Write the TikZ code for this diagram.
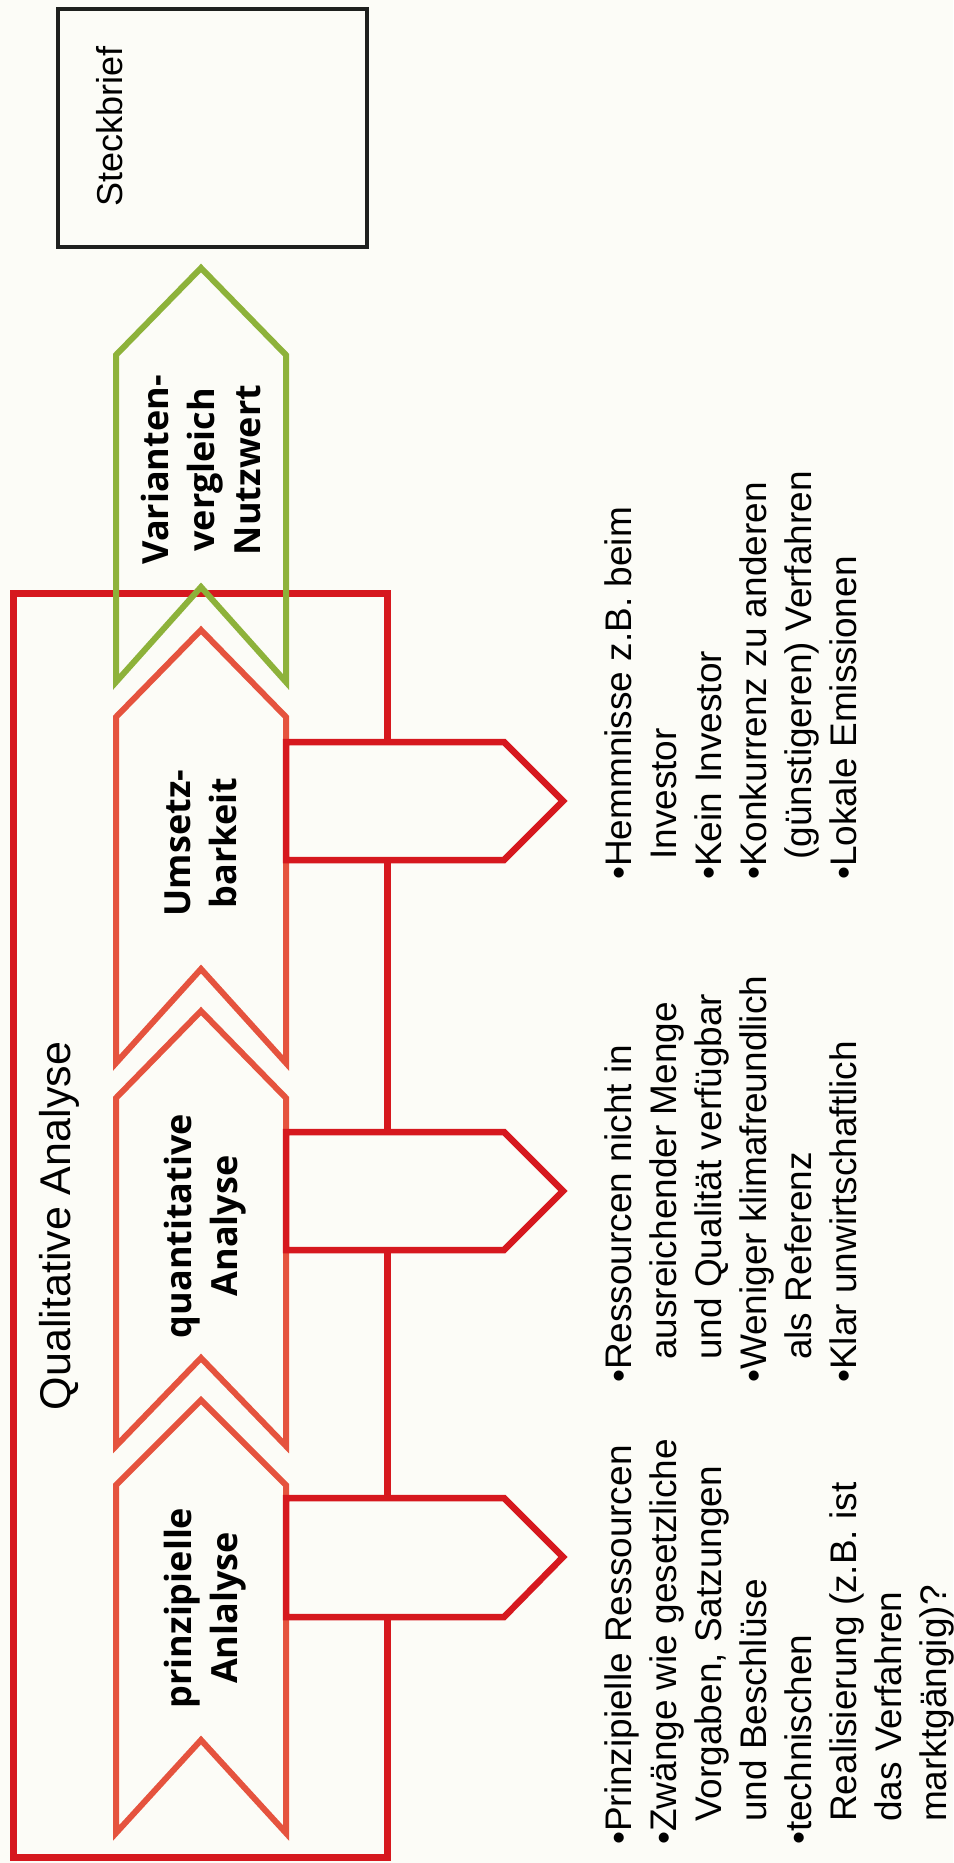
\documentclass[tikz,border=0pt]{standalone}
\usepackage{fontspec}
\setmainfont{Liberation Sans}
\newfontfamily\labfont{Open Sans}
\definecolor{paper}{RGB}{252,252,247}
\definecolor{frred}{RGB}{214,24,30}
\definecolor{arred}{RGB}{229,83,62}
\definecolor{vgreen}{RGB}{141,178,58}
\definecolor{boxblack}{RGB}{30,32,30}
\begin{document}
\begin{tikzpicture}[x=1pt,y=-1pt,
  bigarrow/.style={line width=6pt, line join=miter},
  tabarrow/.style={draw=frred, fill=paper, line width=6.5pt, line join=miter},
  bul/.style={rotate=90, anchor=base west, inner sep=0pt, font=\fontsize{37}{45}\selectfont},
  lbl/.style={rotate=90, align=center, inner sep=0pt, font=\labfont\bfseries\fontsize{36}{46}\selectfont},
]
\path[use as bounding box, fill=paper] (0,0) rectangle (953,1863);

% Steckbrief box
\draw[boxblack, line width=4pt] (58,9) rectangle (367,247);
\node[rotate=90, anchor=base west, inner sep=0pt, font=\fontsize{36}{40}\selectfont] (steck) at (122,207) {Steckbrief};

% outer frame
\draw[frred, line width=7pt] (13,593) rectangle (387,1857);

% big arrows: tip T, shoulder S, bottom B, notch N
\draw[vgreen, bigarrow] (116,355) -- (201,268) -- (286,355) -- (286,682) -- (201,587) -- (116,682) -- cycle;
\draw[arred, bigarrow] (116,717) -- (201,630) -- (286,717) -- (286,1063) -- (201,969) -- (116,1063) -- cycle;
\draw[arred, bigarrow] (116,1098) -- (201,1011) -- (286,1098) -- (286,1446) -- (201,1358) -- (116,1446) -- cycle;
\draw[arred, bigarrow] (116,1485) -- (201,1400) -- (286,1485) -- (286,1833) -- (201,1740) -- (116,1833) -- cycle;

% small tab arrows
\draw[tabarrow] (286,742) -- (504,742) -- (563,801) -- (504,860) -- (286,860) -- cycle;
\draw[tabarrow] (286,1132) -- (504,1132) -- (563,1191) -- (504,1250) -- (286,1250) -- cycle;
\draw[tabarrow] (286,1498) -- (504,1498) -- (563,1557) -- (504,1617) -- (286,1617) -- cycle;

% title
\node[rotate=90, anchor=base, inner sep=0pt, font=\fontsize{43}{48}\selectfont] (title) at (70,1226) {Qualitative Analyse};

% arrow labels
\node[lbl] (lvar) at (201,470) {Varianten-\\vergleich\\Nutzwert};
\node[lbl] (lums) at (201,843) {Umsetz-\\barkeit};
\node[lbl] (lqua) at (205,1226) {quantitative\\Analyse};
\node[lbl] (lpri) at (205,1608) {prinzipielle\\Anlalyse};

% bullets block 1
\node[bul] (a1) at (631,1845) {\textbullet Prinzipielle Ressourcen};
\node[bul] (a2) at (676,1845) {\textbullet Zwänge wie gesetzliche};
\node[bul] (a3) at (721,1822) {Vorgaben, Satzungen};
\node[bul] (a4) at (766,1822) {und Beschlüse};
\node[bul] (a5) at (811,1845) {\textbullet technischen};
\node[bul] (a6) at (856,1822) {Realisierung (z.B. ist};
\node[bul] (a7) at (901,1822) {das Verfahren};
\node[bul] (a8) at (946,1822) {marktgängig)?};

% bullets block 2
\node[bul] (b1) at (631,1383) {\textbullet Ressourcen nicht in};
\node[bul] (b2) at (676,1360) {ausreichender Menge};
\node[bul] (b3) at (721,1360) {und Qualität verfügbar};
\node[bul] (b4) at (766,1383) {\textbullet Weniger klimafreundlich};
\node[bul] (b5) at (811,1360) {als Referenz};
\node[bul] (b6) at (856,1383) {\textbullet Klar unwirtschaftlich};

% bullets block 3
\node[bul] (c1) at (631,880) {\textbullet Hemmnisse z.B. beim};
\node[bul] (c2) at (676,860) {Investor};
\node[bul] (c3) at (721,880) {\textbullet Kein Investor};
\node[bul] (c4) at (766,880) {\textbullet Konkurrenz zu anderen};
\node[bul] (c5) at (811,860) {(günstigeren) Verfahren};
\node[bul] (c6) at (856,880) {\textbullet Lokale Emissionen};
\end{tikzpicture}
\end{document}
